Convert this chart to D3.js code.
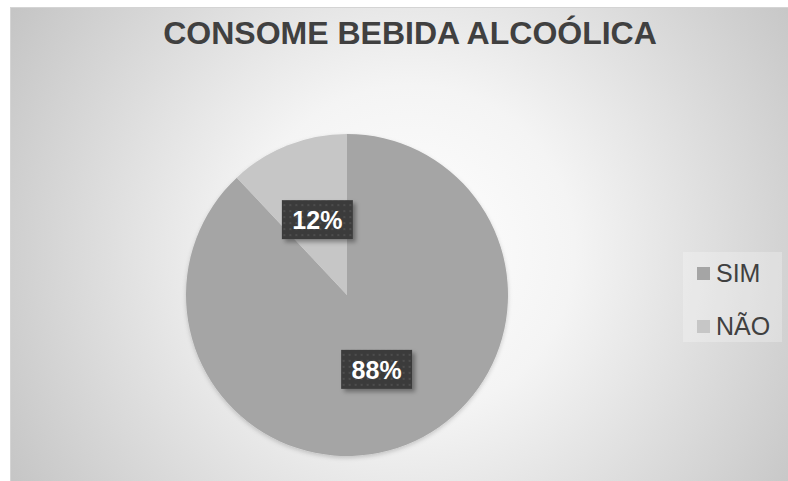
<!DOCTYPE html>
<html>
<head>
<meta charset="utf-8">
<script src="https://cdn.jsdelivr.net/npm/d3@7"></script>
<style>
  html, body { margin: 0; padding: 0; background: #ffffff; }
  svg { display: block; }
</style>
</head>
<body>
<script>
// Chart data
const title = "CONSOME BEBIDA ALCOÓLICA";
const categories = ["SIM", "NÃO"];
const values = [88, 12];
const sliceColors = ["#a5a5a5", "#c6c6c6"];

const W = 788, H = 481;
const svg = d3.select("body").append("svg").attr("width", W).attr("height", H);
const defs = svg.append("defs");

// Radial background of the chart area
const bg = defs.append("radialGradient").attr("id", "bgGrad")
  .attr("gradientUnits", "userSpaceOnUse")
  .attr("cx", 410).attr("cy", 250).attr("r", 470);
bg.append("stop").attr("offset", "0%").attr("stop-color", "#ffffff");
bg.append("stop").attr("offset", "35%").attr("stop-color", "#f4f4f4");
bg.append("stop").attr("offset", "100%").attr("stop-color", "#c4c4c4");

// Dotted fill for the data labels
const pat = defs.append("pattern").attr("id", "dots")
  .attr("patternUnits", "userSpaceOnUse").attr("width", 6).attr("height", 6);
pat.append("rect").attr("width", 6).attr("height", 6).attr("fill", "#3b3b3b");
pat.append("rect").attr("x", 2).attr("y", 2).attr("width", 2).attr("height", 2).attr("fill", "#4e4e4e");

const shadow = defs.append("filter").attr("id", "shadow")
  .attr("x", "-20%").attr("y", "-20%").attr("width", "150%").attr("height", "150%");
shadow.append("feDropShadow").attr("dx", 3).attr("dy", 3).attr("stdDeviation", 2)
  .attr("flood-color", "#000").attr("flood-opacity", 0.35);

const pieShadow = defs.append("filter").attr("id", "pieShadow")
  .attr("x", "-10%").attr("y", "-10%").attr("width", "120%").attr("height", "125%");
pieShadow.append("feDropShadow").attr("dx", 0).attr("dy", 2).attr("stdDeviation", 2)
  .attr("flood-color", "#000").attr("flood-opacity", 0.18);

// Chart area
svg.append("rect").attr("x", 10.5).attr("y", 7.5).attr("width", W).attr("height", H)
  .attr("fill", "url(#bgGrad)").attr("stroke", "#d4d4d4").attr("stroke-width", 1);

// Title
svg.append("text").attr("x", 410).attr("y", 44)
  .attr("text-anchor", "middle")
  .attr("font-family", "Liberation Sans, Arial, sans-serif")
  .attr("font-weight", "bold").attr("font-size", 32)
  .attr("fill", "#404040").text(title);

// Pie
const cx = 347, cy = 295, R = 161;
const pie = d3.pie().sort(null).value(d => d.value);
const data = categories.map((c, i) => ({ name: c, value: values[i], color: sliceColors[i] }));
const arcs = pie(data);
const arc = d3.arc().innerRadius(0).outerRadius(R);
const labelArc = d3.arc().innerRadius(R * 0.5).outerRadius(R * 0.5);

const g = svg.append("g").attr("transform", `translate(${cx},${cy})`);
g.append("g").attr("filter", "url(#pieShadow)")
  .selectAll("path").data(arcs).join("path")
  .attr("d", arc).attr("fill", d => d.data.color);

// Data labels
const total = d3.sum(values);
const lab = g.selectAll("g.lab").data(arcs).join("g").attr("class", "lab")
  .attr("transform", d => { const [x, y] = labelArc.centroid(d); return `translate(${x},${y})`; });
lab.append("rect").attr("x", -35.5).attr("y", -20).attr("width", 71).attr("height", 39)
  .attr("fill", "url(#dots)").attr("filter", "url(#shadow)");
lab.append("text").attr("text-anchor", "middle").attr("dy", 9)
  .attr("font-family", "Liberation Sans, Arial, sans-serif")
  .attr("font-weight", "bold").attr("font-size", 25).attr("fill", "#ffffff")
  .text(d => Math.round(d.data.value / total * 100) + "%");

// Legend
const legend = svg.append("g");
legend.append("rect").attr("x", 683).attr("y", 252).attr("width", 99).attr("height", 90)
  .attr("fill", "#ffffff").attr("fill-opacity", 0.25);
const items = legend.selectAll("g.item").data(data).join("g").attr("class", "item")
  .attr("transform", (d, i) => `translate(697,${282 + i * 53})`);
items.append("rect").attr("x", 0).attr("y", -15).attr("width", 13).attr("height", 13)
  .attr("fill", d => d.color);
items.append("text").attr("x", 19).attr("y", 0)
  .attr("font-family", "Liberation Sans, Arial, sans-serif")
  .attr("font-size", 25).attr("fill", "#404040").text(d => d.name);
</script>
</body>
</html>
